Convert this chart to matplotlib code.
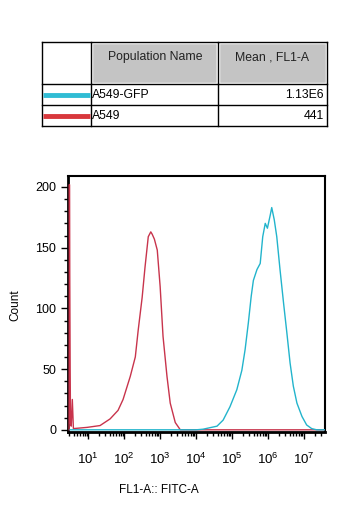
import numpy as np, matplotlib.pyplot as plt
from matplotlib.patches import Rectangle
from matplotlib.ticker import FixedLocator, LogLocator, NullFormatter

plt.rcParams['font.family'] = ['Liberation Sans', 'DejaVu Sans']
plt.rcParams['mathtext.fontset'] = 'custom'
plt.rcParams['mathtext.rm'] = 'Liberation Sans'
plt.rcParams['mathtext.it'] = 'Liberation Sans'
plt.rcParams['mathtext.default'] = 'regular'

# population table
populations = ['A549-GFP', 'A549']
means = ['1.13E6', '441']
colors = ['#30bcd4', '#d8383c']
curve_colors = ['#22b4cc', '#c8344c']

# histograms, x given as log10(FL1-A)
gfp_log = [0.5, 1.0, 2.0, 3.0, 4.0, 4.19, 4.58, 4.75, 4.94, 5.13, 5.27, 5.36, 5.45, 5.53,
           5.59, 5.69, 5.78, 5.85, 5.92, 5.98, 6.06, 6.10, 6.17, 6.24, 6.33, 6.43,
           6.52, 6.61, 6.70, 6.80, 6.94, 7.07, 7.21, 7.35, 7.58]
gfp_count = [0, 0, 0, 0, 0, 0.5, 3, 8, 19, 33, 49, 66, 88, 110,
             123, 132, 137, 159, 170, 166, 177, 183, 173, 159, 132, 104,
             80, 55, 36, 22, 11, 4, 1, 0, 0]

wt_log = [0.47, 0.48, 0.49, 0.50, 0.51, 0.53, 0.56, 0.59, 0.97, 1.33, 1.61, 1.83, 1.97,
          2.17, 2.31, 2.39, 2.50, 2.58, 2.67, 2.74, 2.78, 2.84, 2.92, 3.00, 3.08,
          3.19, 3.28, 3.42, 3.56, 5.0, 7.58]
wt_count = [0, 202, 120, 50, 5, 3, 25, 1, 2, 3.5, 9, 16, 25,
            44, 60, 82, 109, 134, 159, 163, 161, 157, 148, 118, 77,
            44, 22, 6, 0, 0, 0]

fig = plt.figure(figsize=(3.57, 5.16), dpi=100)

# table drawn in pixel coordinates
tab = fig.add_axes([0, 0, 1, 1])
tab.set_xlim(0, 357)
tab.set_ylim(516, 0)
tab.axis('off')
cols = [42, 91, 218, 327]
rows = [42, 84, 105, 126]
for c0, c1 in zip(cols[1:-1], cols[2:]):
    tab.add_patch(Rectangle((c0, rows[0]), c1 - c0, rows[1] - rows[0],
                            facecolor='#c4c4c4', edgecolor='white', lw=2.5))
for r in rows:
    tab.plot([cols[0], cols[-1]], [r, r], color='black', lw=1)
for c in cols:
    tab.plot([c, c], [rows[0], rows[-1]], color='black', lw=1)
tab.text(155, 57, 'Population Name', ha='center', va='center', fontsize=8.8, color='#222222')
tab.text(272, 57, 'Mean , FL1-A', ha='center', va='center', fontsize=8.8, color='#222222')
for i, (name, mean, col) in enumerate(zip(populations, means, colors)):
    y = (rows[i + 1] + rows[i + 2]) / 2
    tab.plot([cols[0] + 1, cols[1] - 1], [y, y], color=col, lw=3.5, solid_capstyle='butt')
    tab.text(cols[1] + 1, y + 0.5, name, ha='left', va='center', fontsize=8.8)
    tab.text(cols[-1] - 3, y + 0.5, mean, ha='right', va='center', fontsize=8.8)

# histogram
ax = fig.add_axes([68 / 357, 1 - 432 / 516, 257 / 357, 256 / 516])
ax.plot(10 ** np.array(wt_log), wt_count, color=curve_colors[1], lw=1, zorder=3)
ax.plot(10 ** np.array(gfp_log), gfp_count, color=curve_colors[0], lw=1, zorder=3)
ax.set_xscale('log')
ax.set_xlim(10 ** 0.44, 10 ** 7.58)
ax.set_ylim(-1.8, 209)

ax.xaxis.set_major_locator(FixedLocator([10.0 ** k for k in range(1, 8)]))
ax.set_xticklabels([r'$10^{%d}$' % k for k in range(1, 8)])
ax.xaxis.set_minor_locator(LogLocator(base=10, subs=np.arange(2, 10), numticks=20))
ax.xaxis.set_minor_formatter(NullFormatter())
ax.set_yticks([0, 50, 100, 150, 200])
ax.set_yticks(np.arange(0, 201, 10), minor=True)
ax.tick_params(axis='both', which='major', direction='out', length=5, width=1, labelsize=9)
ax.tick_params(axis='both', which='minor', direction='out', length=3, width=1)
ax.tick_params(axis='x', which='major', pad=9, labelsize=9.5)
for side in ['left', 'bottom']:
    ax.spines[side].set_linewidth(2)
for side in ['top', 'right']:
    ax.spines[side].set_linewidth(1.5)

fig.text(15 / 357, 1 - 305 / 516, 'Count', rotation=90, ha='center', va='center', fontsize=8.5)
fig.text(159 / 357, 1 - 490 / 516, 'FL1-A:: FITC-A', ha='center', va='center', fontsize=8.5)

fig.savefig('out.png', dpi=100)
